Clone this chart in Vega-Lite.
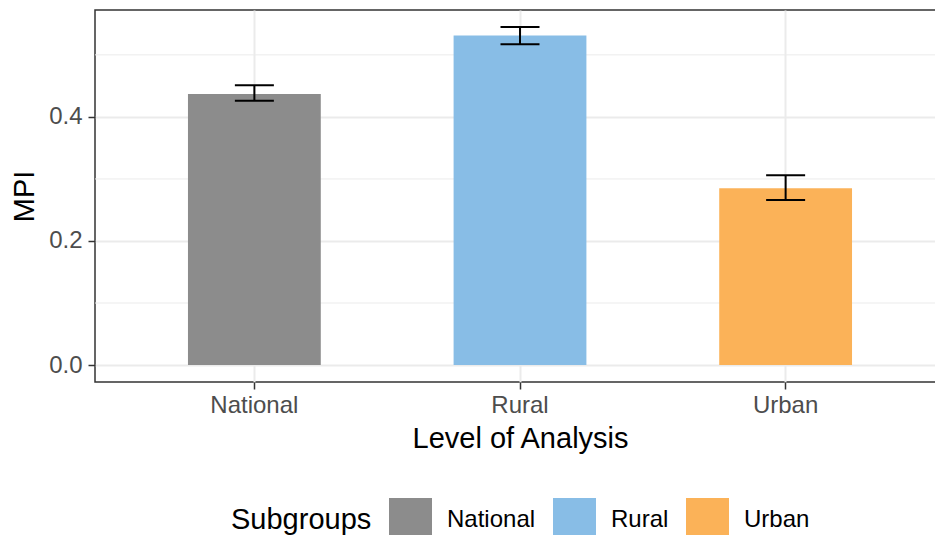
{
  "$schema": "https://vega.github.io/schema/vega-lite/v6.json",
  "width": 850,
  "height": 372,
  "autosize": {"type": "none"},
  "padding": {"left": 95, "top": 10, "right": 0, "bottom": 153},
  "background": "white",
  "config": {
    "font": "Liberation Sans",
    "view": {"stroke": "#333333", "strokeWidth": 1.5},
    "axis": {
      "gridColor": "#ebebeb",
      "gridWidth": 2,
      "tickColor": "#333333",
      "tickWidth": 1.5,
      "tickSize": 7,
      "labelColor": "#4d4d4d",
      "labelFontSize": 24,
      "labelFont": "Liberation Sans",
      "titleFont": "Liberation Sans",
      "titleFontSize": 29,
      "titleColor": "black",
      "titleFontWeight": "normal",
      "domain": false
    }
  },
  "data": {
    "values": [
      {"level": "National", "mpi": 0.437, "lo": 0.426, "hi": 0.451},
      {"level": "Rural", "mpi": 0.531, "lo": 0.517, "hi": 0.545},
      {"level": "Urban", "mpi": 0.285, "lo": 0.266, "hi": 0.306}
    ]
  },
  "layer": [
    {
      "data": {"values": [{"g": 0.1}, {"g": 0.3}, {"g": 0.5}]},
      "mark": {"type": "rule", "color": "#ebebeb", "strokeWidth": 1},
      "encoding": {"y": {"field": "g", "type": "quantitative"}}
    },
    {
      "mark": {"type": "bar"},
      "encoding": {
        "x": {
          "field": "level",
          "type": "nominal",
          "title": "Level of Analysis",
          "scale": {"paddingInner": 0.5, "paddingOuter": 0.35},
          "axis": {"labelAngle": 0, "bandPosition": 0.5, "grid": true, "labelPadding": 4, "titlePadding": 7}
        },
        "y": {
          "field": "mpi",
          "type": "quantitative",
          "title": "MPI",
          "scale": {"domain": [-0.0273, 0.5723], "nice": false, "zero": false},
          "axis": {"values": [0, 0.2, 0.4], "format": ".1f", "labelPadding": 6, "titlePadding": 9}
        },
        "color": {
          "field": "level",
          "type": "nominal",
          "scale": {"domain": ["National", "Rural", "Urban"], "range": ["#8c8c8c", "#88bde6", "#fbb258"]},
          "legend": {
            "title": "Subgroups",
            "orient": "none",
            "legendX": 136,
            "legendY": 488,
            "direction": "horizontal",
            "titleOrient": "left",
            "titleFontSize": 29,
            "titleFontWeight": "normal",
            "titleColor": "black",
            "titleBaseline": "middle",
            "titlePadding": 17,
            "labelFontSize": 24,
            "labelColor": "black",
            "labelOffset": 15,
            "columnPadding": 17,
            "symbolType": "square",
            "symbolSize": 1849,
            "symbolStrokeWidth": 0,
            "symbolOpacity": 1
          }
        }
      }
    },
    {
      "mark": {"type": "rule", "color": "black", "strokeWidth": 2},
      "encoding": {
        "x": {"field": "level", "type": "nominal"},
        "y": {"field": "lo", "type": "quantitative"},
        "y2": {"field": "hi"}
      }
    },
    {
      "mark": {"type": "tick", "color": "black", "size": 39, "thickness": 2, "opacity": 1},
      "encoding": {
        "x": {"field": "level", "type": "nominal"},
        "y": {"field": "lo", "type": "quantitative"}
      }
    },
    {
      "mark": {"type": "tick", "color": "black", "size": 39, "thickness": 2, "opacity": 1},
      "encoding": {
        "x": {"field": "level", "type": "nominal"},
        "y": {"field": "hi", "type": "quantitative"}
      }
    }
  ]
}
